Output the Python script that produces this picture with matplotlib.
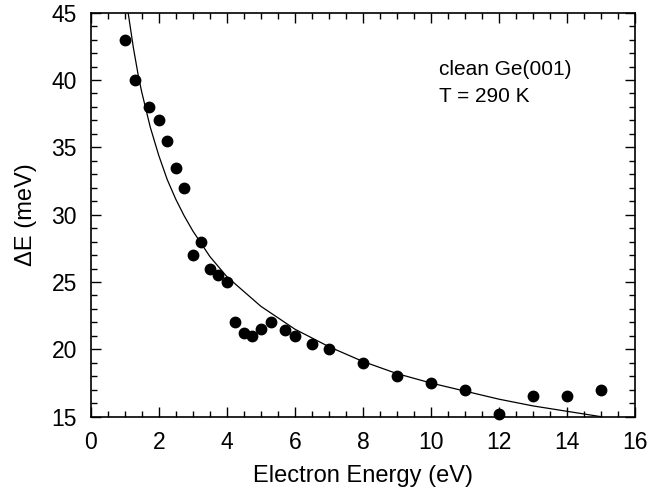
import matplotlib
matplotlib.use("Agg")
import matplotlib.pyplot as plt
from matplotlib.ticker import MultipleLocator

plt.rcParams['font.family'] = ['Liberation Sans', 'DejaVu Sans']

# measured points
energy = [1.0, 1.3, 1.7, 2.0, 2.25, 2.5, 2.75, 3.0, 3.25, 3.5, 3.75, 4.0,
          4.25, 4.5, 4.75, 5.0, 5.3, 5.7, 6.0, 6.5, 7.0, 8.0, 9.0, 10.0,
          11.0, 12.0, 13.0, 14.0, 15.0]
delta_e = [43.0, 40.0, 38.0, 37.0, 35.5, 33.5, 32.0, 27.0, 28.0, 26.0, 25.5, 25.0,
           22.0, 21.2, 21.0, 21.5, 22.0, 21.4, 21.0, 20.4, 20.0, 19.0, 18.0, 17.5,
           17.0, 15.2, 16.5, 16.5, 17.0]

# solid curve
curve_e = [1.1, 1.25, 1.4, 1.5, 1.75, 2.0, 2.25, 2.5, 2.75, 3.0, 3.5, 4.0,
           5.0, 6.0, 7.0, 8.0, 9.0, 10.0, 11.0, 12.0, 13.0, 14.0, 15.0]
curve_de = [45.0, 42.45, 40.3, 39.1, 36.5, 34.4, 32.6, 31.15, 29.9, 28.8, 26.9, 25.4,
            23.2, 21.5, 20.2, 19.1, 18.2, 17.5, 16.9, 16.3, 15.8, 15.4, 15.0]

labels = ["clean Ge(001)", "T = 290 K"]

fig = plt.figure(figsize=(6.48, 5.01), dpi=100)
ax = fig.add_axes([0.14, 0.1683, 0.84, 0.8064])

ax.plot(curve_e, curve_de, color="black", linewidth=0.9)
ax.plot(energy, delta_e, "o", color="black", markersize=7.5, clip_on=False)

ax.set_xlim(0, 16)
ax.set_ylim(15, 45)
ax.xaxis.set_major_locator(MultipleLocator(2))
ax.xaxis.set_minor_locator(MultipleLocator(0.5))
ax.yaxis.set_major_locator(MultipleLocator(5))
ax.yaxis.set_minor_locator(MultipleLocator(1))
ax.tick_params(which="both", direction="in", top=True, right=True,
               labelsize=16.5, width=1)
ax.tick_params(which="major", length=7, pad=10)
ax.tick_params(which="minor", length=4)
for sp in ax.spines.values():
    sp.set_linewidth(1.2)

ax.set_xlabel("Electron Energy (eV)", fontsize=17, labelpad=8)
ax.set_ylabel("\u0394E (meV)", fontsize=17, labelpad=10)

ax.text(10.25, 40.37, labels[0], fontsize=15, ha="left", va="baseline")
ax.text(10.25, 38.39, labels[1], fontsize=15, ha="left", va="baseline")

fig.savefig("out.png", dpi=100)
